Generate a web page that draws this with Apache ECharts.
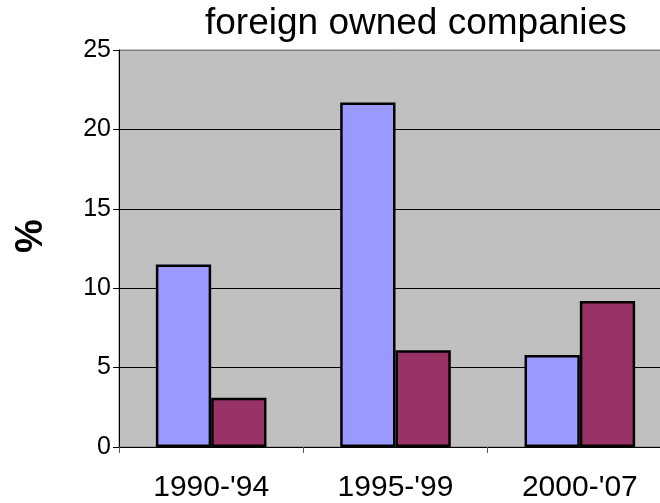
<!DOCTYPE html>
<html>
<head>
<meta charset="utf-8">
<script src="https://cdn.jsdelivr.net/npm/echarts@6/dist/echarts.min.js"></script>
<style>
html,body{margin:0;padding:0;background:#fff;overflow:hidden;width:660px;height:503px;}
#chart{width:672px;height:503px;}
</style>
</head>
<body>
<div id="chart"></div>
<script>
var titleText = "foreign owned companies";
var yAxisLabel = "%";
var categories = ["1990-'94", "1995-'99", "2000-'07"];
var seriesA = [11.5, 21.7, 5.8];
var seriesB = [3.1, 6.1, 9.2];
var yMin = 0, yMax = 25, yInterval = 5;

var font = "'Liberation Sans', Arial, sans-serif";
var chart = echarts.init(document.getElementById('chart'), null, {renderer: 'canvas'});
chart.setOption({
  animation: false,
  backgroundColor: '#ffffff',
  title: {
    text: titleText,
    left: 200, top: 0,
    textStyle: {fontFamily: font, fontSize: 37, fontWeight: 'normal', color: '#000'}
  },
  graphic: [{
    type: 'text',
    x: 32, y: 236,
    rotation: Math.PI / 2,
    style: {
      text: yAxisLabel,
      fontFamily: font, fontSize: 38, fontWeight: 'bold', fill: '#000',
      align: 'center', verticalAlign: 'middle'
    }
  }],
  grid: {
    left: 119, top: 50, right: 0, bottom: 56,
    show: true, backgroundColor: '#C0C0C0', borderColor: '#808080', borderWidth: 1
  },
  xAxis: {
    type: 'category',
    data: categories,
    axisLine: {lineStyle: {color: '#000', width: 1}},
    axisTick: {show: true, length: 6, lineStyle: {color: '#555'}},
    axisLabel: {fontFamily: font, fontSize: 30, color: '#000', margin: 26}
  },
  yAxis: {
    type: 'value',
    min: yMin, max: yMax, interval: yInterval,
    axisLine: {show: true, lineStyle: {color: '#000', width: 1}},
    axisTick: {show: true, length: 6, lineStyle: {color: '#000'}},
    axisLabel: {fontFamily: font, fontSize: 25, color: '#000', margin: 8},
    splitLine: {show: true, lineStyle: {color: ['#000','#000','#000','#000','#000','#808080'], width: 1}}
  },
  series: [
    {
      type: 'bar', data: seriesA,
      barGap: '0%', barCategoryGap: '40%',
      itemStyle: {color: '#9999FF', borderColor: '#000', borderWidth: 2.5}
    },
    {
      type: 'bar', data: seriesB,
      itemStyle: {color: '#993366', borderColor: '#000', borderWidth: 2.5}
    }
  ]
});
</script>
</body>
</html>
